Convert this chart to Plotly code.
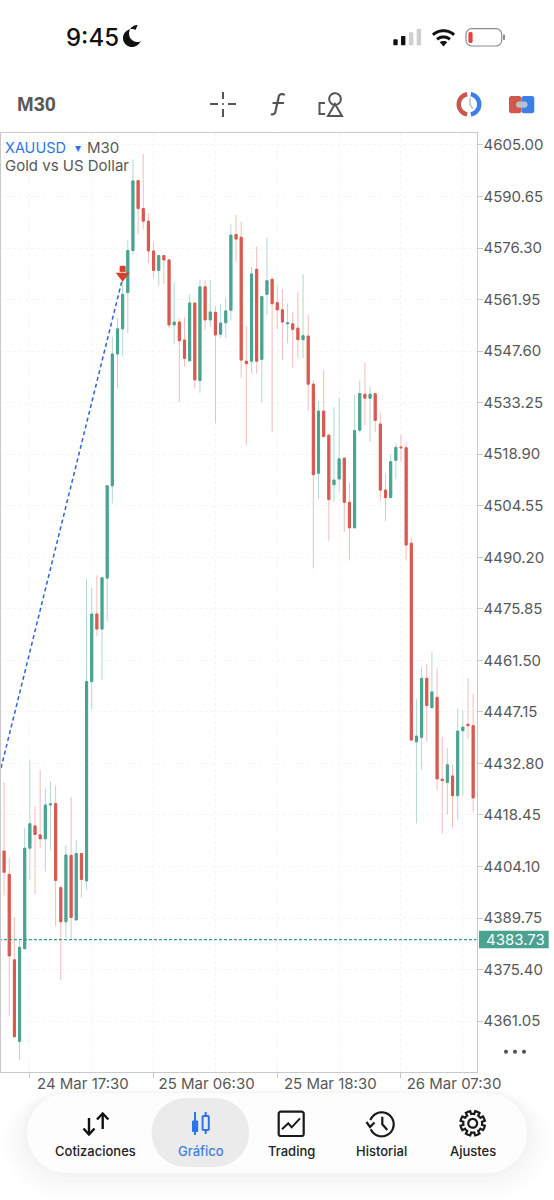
import numpy as np
import plotly.graph_objects as go

SYMBOL = "XAUUSD"
TIMEFRAME = "M30"
DESCRIPTION = "Gold vs US Dollar"
LAST_PRICE = 4383.73

opens = [4408.4,4401.9,4378.1,4355.4,4381.2,4409.2,4415.4,4412.9,4411.8,4421.2,4421.6,4398.2,4388.7,4407.2,4389.2,4407.7,
         4400.1,4455.6,4474.4,4470.2,4484.4,4510.1,4546.8,4553.8,4563.9,4575.6,4595.1,4587.3,4583.8,4575.5,4570.1,4574.2,
         4573.0,4554.9,4555.7,4550.7,4544.9,4561.0,4539.4,4565.5,4556.3,4558.4,4552.3,4555.5,4559.0,4580.1,4579.3,4544.8,
         4544.8,4570.4,4545.3,4563.4,4567.6,4561.1,4559.1,4555.2,4555.2,4554.0,4550.8,4551.8,4538.4,4513.6,4530.9,4524.2,
         4510.4,4512.0,4517.8,4505.5,4498.4,4525.6,4535.6,4534.5,4535.7,4527.3,4508.9,4506.8,4517.2,4520.9,4520.7,4494.1,
         4438.8,4440.1,4456.5,4448.3,4451.2,4428.4,4427.5,4429.3,4423.8,4441.9,4443.7,4443.3]
highs = [4427.5,4406.4,4390.0,4383.4,4414.9,4433.8,4420.8,4431.0,4425.9,4427.7,4426.6,4399.0,4410.0,4423.5,4411.5,4407.7,
         4484.1,4481.6,4485.3,4484.5,4510.1,4551.6,4556.7,4571.6,4578.5,4601.0,4595.3,4602.5,4586.0,4578.0,4574.2,4574.2,
         4573.2,4566.8,4556.7,4557.0,4563.4,4561.0,4567.4,4567.4,4567.4,4560.2,4560.7,4562.3,4582.9,4585.5,4583.6,4554.6,
         4571.1,4576.7,4562.8,4579.2,4568.3,4565.7,4564.9,4560.9,4558.4,4564.0,4569.0,4557.7,4539.6,4533.7,4542.2,4524.7,
         4532.1,4534.6,4518.0,4511.0,4535.4,4539.4,4544.4,4537.7,4535.9,4530.5,4513.6,4518.9,4521.9,4524.3,4522.2,4495.7,
         4450.7,4459.6,4460.4,4463.7,4459.3,4440.2,4437.0,4432.4,4448.2,4447.5,4456.5,4452.1]
lows = [4396.0,4362.5,4356.6,4350.2,4381.1,4400.5,4396.4,4409.3,4402.7,4408.7,4387.5,4372.5,4384.1,4383.9,4389.2,4395.4,
        4397.6,4447.9,4468.3,4456.0,4472.5,4505.2,4537.4,4546.3,4552.6,4574.4,4580.2,4581.5,4572.1,4567.9,4565.8,4566.2,
        4554.0,4549.6,4533.4,4543.3,4544.9,4537.3,4536.0,4553.5,4554.4,4527.5,4551.3,4551.3,4556.1,4572.5,4540.3,4521.5,
        4541.4,4541.2,4533.4,4557.7,4525.2,4553.7,4545.1,4549.8,4543.0,4545.8,4545.6,4530.9,4487.1,4506.4,4523.7,4494.8,
        4505.7,4508.3,4497.3,4489.3,4498.4,4524.9,4527.0,4522.4,4525.0,4505.9,4500.3,4506.8,4511.9,4516.8,4489.3,4439.1,
        4416.1,4431.0,4439.0,4448.3,4425.4,4413.2,4418.6,4414.9,4417.2,4423.8,4439.6,4419.2]
closes = [4402.5,4379.2,4356.7,4381.6,4409.2,4416.0,4413.0,4411.8,4421.2,4421.5,4400.2,4388.7,4407.3,4389.9,4407.7,4400.5,
          4455.6,4474.4,4470.2,4484.5,4510.1,4546.8,4553.8,4563.4,4575.6,4595.0,4587.3,4583.8,4575.5,4570.1,4574.2,4573.0,
          4554.9,4555.7,4550.5,4545.6,4561.0,4539.6,4565.5,4556.3,4558.5,4552.1,4555.4,4558.8,4579.9,4578.8,4545.1,4544.1,
          4569.1,4544.8,4562.8,4567.2,4560.8,4559.1,4555.7,4555.5,4553.7,4550.8,4551.9,4538.4,4513.2,4530.9,4523.8,4506.3,
          4511.7,4517.6,4505.5,4498.4,4525.5,4535.8,4534.5,4535.6,4528.3,4508.9,4506.8,4516.8,4520.8,4520.7,4493.6,4439.3,
          4440.4,4456.5,4448.9,4452.7,4428.5,4428.0,4432.4,4423.8,4441.8,4442.9,4443.3,4423.2]
bars = list(range(len(opens)))
bodies_high = [max(o, c) for o, c in zip(opens, closes)]
bodies_low = [min(o, c) for o, c in zip(opens, closes)]

date_ticks = [5, 29, 53, 77]
date_labels = ["24 Mar 17:30", "25 Mar 06:30", "25 Mar 18:30", "26 Mar 07:30"]
date_grid = [5, 17, 29, 41, 53, 65, 77, 89]
price_ticks = [4605.00, 4590.65, 4576.30, 4561.95, 4547.60, 4533.25, 4518.90, 4504.55,
               4490.20, 4475.85, 4461.50, 4447.15, 4432.80, 4418.45, 4404.10, 4389.75, 4375.40, 4361.05]
trade_bars = [-0.6, 23]
trade_prices = [4431.5, 4568.0]
arrow_bar = [23]
arrow_stem = [4570.5]
arrow_head = [4568.6]

W, H = 554, 1200
GREEN, RED = "#4aa391", "#d9584f"
GREEN_WICK, RED_WICK = "#b4d8d0", "#f2bdb9"
GRID, FRAME = "#f4f4f4", "#c9c9c9"
TEXT, ICON, BLUE = "#585858", "#555555", "#2f74e6"
SANS = "Inter, sans-serif"


def X(px):
    return px / W


def Y(py):
    return 1 - py / H


fig = go.Figure()

# wicks first, solid bodies on top of them
fig.add_trace(go.Candlestick(
    x=bars, open=opens, high=highs, low=lows, close=closes, whiskerwidth=0,
    increasing=dict(line=dict(color=GREEN_WICK, width=1), fillcolor=GREEN_WICK),
    decreasing=dict(line=dict(color=RED_WICK, width=1), fillcolor=RED_WICK),
    hoverinfo="skip"))
fig.add_trace(go.Candlestick(
    x=bars, open=opens, high=bodies_high, low=bodies_low, close=closes, whiskerwidth=0,
    increasing=dict(line=dict(color=GREEN, width=1), fillcolor=GREEN),
    decreasing=dict(line=dict(color=RED, width=1), fillcolor=RED),
    hoverinfo="skip"))
fig.add_trace(go.Scatter(x=[-1, 92], y=[LAST_PRICE, LAST_PRICE], mode="lines",
                         line=dict(color="#2f9c88", width=1.2, dash="3px,2px"), hoverinfo="skip"))
fig.add_trace(go.Scatter(x=trade_bars, y=trade_prices, mode="lines",
                         line=dict(color="#2f62d8", width=1.5, dash="4px,3px"), hoverinfo="skip"))
fig.add_trace(go.Scatter(x=arrow_bar, y=arrow_stem, mode="markers",
                         marker=dict(symbol="square", size=6, color="#d5402f", line=dict(width=0)), hoverinfo="skip"))
fig.add_trace(go.Scatter(x=arrow_bar, y=arrow_head, mode="markers",
                         marker=dict(symbol="triangle-down", size=12, color="#d5402f", line=dict(width=0)), hoverinfo="skip"))

shapes, notes = [], []


def text(px, py, s, size=13, color="#222222", anchor="center", family=SANS, weight=None):
    font = dict(size=size, color=color, family=family)
    if weight:
        font["weight"] = weight
    notes.append(dict(xref="paper", yref="paper", x=X(px), y=Y(py), text=s, showarrow=False,
                      xanchor=anchor, yanchor="middle", font=font, borderpad=0, borderwidth=0))


def poly(points, fill=None, line=None, width=0, close=False):
    d = "M" + " L".join(f"{X(a):.5f},{Y(b):.5f}" for a, b in points) + (" Z" if close else "")
    shapes.append(dict(type="path", xref="paper", yref="paper", path=d,
                       fillcolor=fill or "rgba(0,0,0,0)",
                       line=dict(color=line or "rgba(0,0,0,0)", width=width)))


def arc(cx, cy, r, a0, a1, n=40):
    t = np.radians(np.linspace(a0, a1, n))
    return list(zip(cx + r * np.cos(t), cy - r * np.sin(t)))


def rrect(x0, y0, x1, y1, r, **kw):
    pts = (arc(x1 - r, y0 + r, r, 90, 0, 14) + arc(x1 - r, y1 - r, r, 0, -90, 14)
           + arc(x0 + r, y1 - r, r, -90, -180, 14) + arc(x0 + r, y0 + r, r, 180, 90, 14))
    poly(pts, close=True, **kw)


def disc(cx, cy, r, **kw):
    poly(arc(cx, cy, r, 0, 360, 48), close=True, **kw)


# status bar
text(92, 38, "9:45", size=24, color="#111111", weight=500)
poly(arc(132, 38, 9, 65, 330, 40) + arc(137.5, 33.5, 8.5, 300, 90, 30), fill="#111111", close=True)
for x0, top, col in [(393.3, 39.3, "#111111"), (401, 36, "#111111"), (409, 32.3, "#cfcfcf"), (416.7, 28.7, "#cfcfcf")]:
    rrect(x0, top, x0 + 4.4, 45.3, 1, fill=col)
poly(arc(443.5, 46.5, 15.8, 48, 132, 24), line="#111111", width=3)
poly(arc(443.5, 46.5, 9.6, 48, 132, 16), line="#111111", width=3)
poly([(443.5, 46.5)] + arc(443.5, 46.5, 5.6, 48, 132, 10), fill="#111111", close=True)
rrect(466, 28.6, 501.7, 46, 6, line="#8c8c8c", width=1.2)
rrect(468.4, 32, 472.6, 43, 1.8, fill="#e8403c")
rrect(503, 34.5, 505, 40, 1, fill="#8c8c8c")

# toolbar
text(17, 104, TIMEFRAME, size=20, color=TEXT, anchor="left", family="Liberation Sans", weight=700)
for seg in [[(210, 104), (218, 104)], [(228, 104), (236, 104)], [(223, 92), (223, 99)], [(223, 109), (223, 117)]]:
    poly(seg, line=ICON, width=2)
disc(223, 104, 1, fill=ICON)
poly(arc(282, 97.5, 3.5, 40, 180, 8) + [(278.5, 98), (275.5, 111)] + arc(272, 111, 3.5, 0, -110, 8), line=ICON, width=2.2)
poly([(272.5, 103), (284, 103)], line=ICON, width=2)
disc(335, 99, 5.8, line=ICON, width=2)
poly([(335, 104), (342, 116), (328, 116)], line=ICON, width=2, close=True)
poly([(325, 103), (319.5, 103), (319.5, 114), (325, 114)], line=ICON, width=2)
poly(arc(469, 104.3, 12.5, 100, 260, 30) + arc(469, 104.3, 8, 260, 100, 30), fill="#c9584a", close=True)
poly(arc(469, 104.3, 12.5, 80, -80, 30) + arc(469, 104.3, 8, -80, 80, 30), fill="#3d7fe8", close=True)
poly([(470, 98), (470, 104.5), (473, 109)], line="#b9c2c6", width=1.6)
rrect(509, 96, 521.5, 113.3, 2.5, fill="#d0574a")
rrect(521.5, 96, 534.3, 113.3, 2.5, fill="#3d7fe8")
rrect(516, 101.5, 527.5, 107.8, 3, fill="#b4c1c9")

# chart legend
text(5, 147, SYMBOL, size=14.5, color=BLUE, anchor="left")
text(78, 147.5, "▾", size=12, color=BLUE)
text(87, 147, TIMEFRAME, size=15, color=TEXT, anchor="left")
text(5, 166, DESCRIPTION, size=15, color=TEXT, anchor="left")

# last price tag on the price scale
shapes.append(dict(type="rect", xref="paper", yref="paper", x0=X(479), x1=X(548.7), y0=Y(930.7), y1=Y(948.3),
                   fillcolor="#4aa391", line=dict(width=0)))
notes.append(dict(xref="paper", yref="y", x=X(484), y=LAST_PRICE, text=f"{LAST_PRICE:.2f}", showarrow=False,
                  xanchor="left", yanchor="middle", font=dict(size=15, color="#ffffff", family=SANS)))
for x0 in (506, 515, 524):
    disc(x0, 1051.7, 2, fill="#555555")

# bottom navigation, soft shadow under the bar
for grow, alpha in [(26, .006), (20, .007), (14, .008), (9, .009), (4, .01)]:
    rrect(27 - grow, 1093 - grow * .2, 527 + grow, 1173 + grow, 40 + grow, fill=f"rgba(0,0,0,{alpha})")
rrect(27, 1093, 527, 1173, 40, fill="#fdfdfd")
rrect(151.7, 1098, 249, 1167, 34, fill="#ebebeb")
for cx, label, col in [(95, "Cotizaciones", "#222222"), (201, "Gráfico", "#3f7fe0"), (291, "Trading", "#222222"),
                       (381, "Historial", "#222222"), (473, "Ajustes", "#222222")]:
    text(cx, 1151.3, label, size=13, color=col, weight=500)

poly([(89, 1118), (89, 1134)], line="#111111", width=2.4)
poly([(83.5, 1128.5), (89, 1134.5), (94.5, 1128.5)], line="#111111", width=2.4)
poly([(102.7, 1114), (102.7, 1129)], line="#111111", width=2.4)
poly([(97, 1119.5), (102.7, 1113.5), (108.4, 1119.5)], line="#111111", width=2.4)

poly([(195, 1112), (195, 1135)], line=BLUE, width=2)
rrect(192, 1120.5, 198.2, 1132, 1, fill=BLUE)
poly([(205.7, 1112), (205.7, 1116)], line=BLUE, width=2)
poly([(205.7, 1130), (205.7, 1134)], line=BLUE, width=2)
rrect(202.6, 1116, 208.8, 1130, 1, line=BLUE, width=2)

rrect(278.7, 1111.7, 303.7, 1136, 2, line="#1a1a1a", width=2.2)
poly([(282, 1129.3), (288.3, 1123.3), (291.7, 1127.3), (300, 1118.3)], line="#1a1a1a", width=2)

poly(arc(381.7, 1124.3, 12, 160, -155, 60), line="#1a1a1a", width=2.2)
poly([(366.5, 1122), (370, 1127), (374.5, 1122.5)], line="#1a1a1a", width=2.2)
poly([(382.3, 1116.7), (382.3, 1124.3), (387.3, 1130)], line="#1a1a1a", width=2.2)

gear = []
for k in range(8):
    a = k * 45 + 22.5
    gear += arc(472.7, 1123.3, 9.4, a - 22.5, a - 13, 3) + arc(472.7, 1123.3, 12.4, a - 11, a + 11, 3) + arc(472.7, 1123.3, 9.4, a + 13, a + 22.5, 3)
poly(gear, line="#1a1a1a", width=2.2, close=True)
disc(472.7, 1123.3, 4.4, line="#1a1a1a", width=2.2)

fig.update_layout(
    width=W, height=H, margin=dict(l=0, r=0, t=0, b=0, pad=0, autoexpand=False),
    paper_bgcolor="#ffffff", plot_bgcolor="#ffffff",
    showlegend=False, boxmode="overlay", boxgap=0.42, hovermode=False,
    shapes=shapes, annotations=notes,
    xaxis=dict(domain=[X(1), X(476.5)], range=[-0.6, 91.65], rangeslider=dict(visible=False),
               tickmode="array", tickvals=date_ticks, ticktext=date_labels, ticks="outside", ticklen=5,
               tickcolor=FRAME, tickfont=dict(size=15, color=TEXT, family=SANS), ticklabelshift=53, ticklabelstandoff=-7,
               showgrid=True, gridcolor=GRID, griddash="dot", zeroline=False,
               minor=dict(tickmode="array", tickvals=date_grid, showgrid=True, gridcolor=GRID, griddash="dot", ticks=""),
               showline=True, linecolor="#c9c9c9", linewidth=1, mirror=True),
    yaxis=dict(domain=[Y(1072), Y(133)], range=[4346.87, 4608.34], side="right",
               tickmode="array", tickvals=price_ticks, ticktext=[f"{v:.2f}" for v in price_ticks],
               ticks="outside", ticklen=5, tickcolor="#c9c9c9", tickfont=dict(size=15, color=TEXT, family=SANS),
               ticklabelstandoff=-2,
               showgrid=True, gridcolor=GRID, griddash="dot", zeroline=False,
               showline=True, linecolor="#c9c9c9", linewidth=1, mirror=True),
)
fig.update_xaxes(tickcolor="#c9c9c9")

fig.write_html("out.html", config=dict(displayModeBar=False))
